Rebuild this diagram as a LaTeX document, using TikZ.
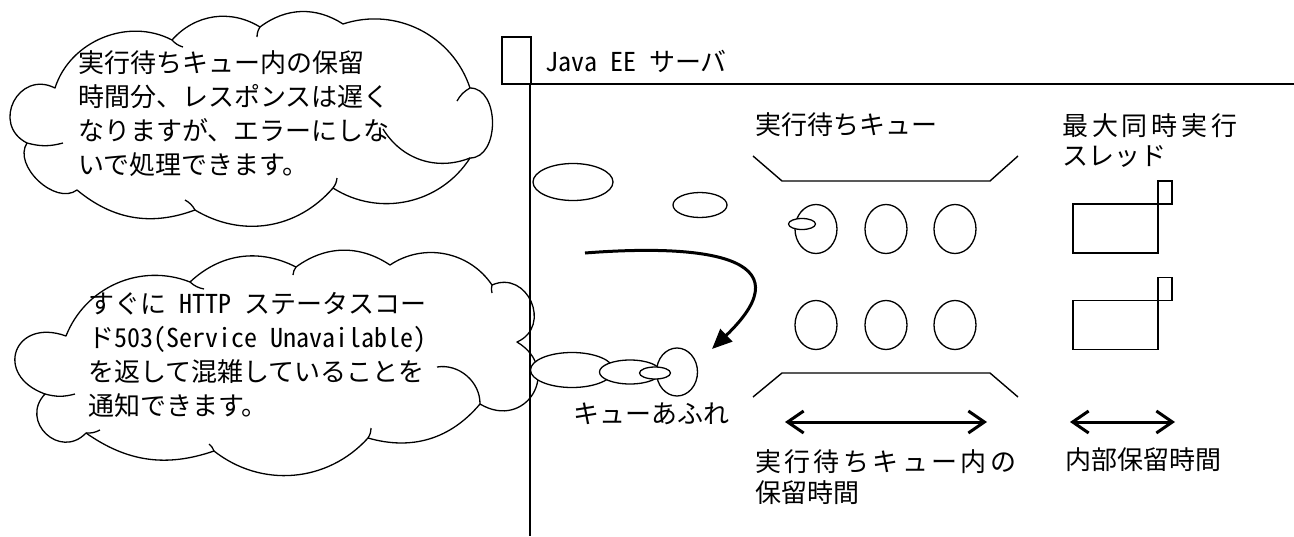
\documentclass[tikz,border=0pt]{standalone}
\usepackage{fontspec}
\setmainfont{Noto Sans CJK JP}
\newfontfamily\hwfont[RawFeature=+hwid]{Noto Sans CJK JP}
\usepackage{tikz}
\usetikzlibrary{positioning}
\usetikzlibrary{arrows.meta,shapes}
\usetikzlibrary{shapes.geometric}

\tikzset{
  puff/.style={line width=1.3pt, line join=round},
  tailegg/.style={ellipse, draw, fill=white, line width=1.3pt, inner sep=0pt},
  jobegg/.style={ellipse, draw, line width=1.3pt, inner sep=0pt, minimum width=42pt, minimum height=49pt},
  threadbox/.style={rectangle, draw, line width=1.6pt, inner sep=0pt, outer sep=0pt, minimum width=85pt, minimum height=49pt},
  threadtab/.style={rectangle, draw, line width=1.6pt, inner sep=0pt, outer sep=0pt, minimum width=14pt, minimum height=23pt, anchor=south west},
  txt/.style={font=\fontsize{26}{34}\selectfont, align=left, inner sep=0pt},
  span/.style={line width=3pt, {Straight Barb[length=16pt,width=22pt]}-{Straight Barb[length=16pt,width=22pt]}},
  flow/.style={line width=3pt, -{Triangle[length=20pt,width=17pt]}},
}

\begin{document}
\begin{tikzpicture}[x=1pt, y=-1pt]
  \useasboundingbox (0,0) rectangle (1294,536);

  \def\lw{1.6pt};

  %server frame
  \draw[line width=\lw] (502,37) rectangle (531,84);
  \draw[line width=\lw] (502,84) -- (1294,84);
  \draw[line width=\lw] (530,84) -- (530,536);
  \node[txt, anchor=west] (srv) at (545,61) {{\hwfont Java EE\ }サーバ};

  %upper cloud
  \foreach \n/\x/\y in {a/55/88, b/172/40, c/260/27, d/343/24, e/470/88, f/470/158, g/333/188, h/195/210, i/77/190, j/27/143}{
    \coordinate (up\n) at (\x,\y);
  }
  \draw[puff] (upa) to[bend left=50] (upb) to[bend left=40] (upc) to[bend left=35] (upd) to[bend left=45] (upe)
    to[bend left=90, looseness=1.1] (upf) to[bend left=45] (upg) to[bend left=40] (uph) to[bend left=30] (upi)
    to[bend left=80] (upj) to[bend left=90, looseness=1.7] (upa) -- cycle;
  \foreach \s/\x/\y/\b in {upb/183/47/-15, upc/257/37/-15, upe/457/101/-15, upf/383/129/40, upg/337/178/-15, uph/185/200/-15, upj/63/143/-15}{
    \draw[puff] (\s) to[bend left=\b] (\x,\y);
  }
  \node[txt, anchor=north west] (tipA) at (78,50) {実行待ちキュー内の保留\\時間分、レスポンスは遅く\\なりますが、エラーにしな\\いで処理できます。};

  %lower cloud
  \foreach \n/\x/\y in {a/66/336, b/190/282, c/296/267, d/390/265, e/492/285, f/517/342, g/480/404, h/368/438, i/214/451, j/86/433, k/45/394}{
    \coordinate (lo\n) at (\x,\y);
  }
  \draw[puff] (loa) to[bend left=45] (lob) to[bend left=35] (loc) to[bend left=35] (lod) to[bend left=45] (loe)
    to[bend left=90, looseness=1.6] (lof) to[bend left=90, looseness=1.9] (log) to[bend left=33] (loh) to[bend left=43] (loi)
    to[bend left=27] (loj) to[bend left=90, looseness=1.7] (lok) to[bend left=90, looseness=2.3] (loa) -- cycle;
  \foreach \s/\x/\y/\b in {lob/204/289/-15, loc/293/275/-15, loe/492/293/-15, log/437/367/-50, loh/371/428/-15, loi/209/444/-15, loj/100/430/-15, lok/75/394/-15}{
    \draw[puff] (\s) to[bend left=\b] (\x,\y);
  }
  \node[txt, anchor=north west] (tipB) at (88,292) {すぐに{\hwfont\ HTTP\ }ステータスコー\\ド{\hwfont 503(Service Unavailable)}\\を返して混雑していることを\\通知できます。};

  %tails
  \foreach \x/\y/\w/\h/\name in {573/182/80/37/ta1, 700/205/54/25/ta2, 572/370/83/35/tb1, 630/372/61/24/tb2, 677/372/41/48/tb3}{
    \node[tailegg, minimum width=\w pt, minimum height=\h pt] (\name) at (\x,\y) {};
  }

  %queue
  \def\qt{229};
  \def\qb{325};
  \draw[line width=1.4pt] (753,156) -- (782,181) -- (990,181) -- (1018,156);
  \draw[line width=1.4pt] (753,397) -- (782,373) -- (990,373) -- (1018,397);
  \foreach \x/\name in {816/qa, 886/qb, 955/qc}{
    \node[jobegg] (\name1) at (\x,\qt) {};
    \node[jobegg] (\name2) at (\x,\qb) {};
  }
  \node[tailegg, minimum width=27pt, minimum height=11pt] (ta3) at (802,224) {};
  \node[tailegg, minimum width=31pt, minimum height=12pt] (tb4) at (655,373) {};
  \node[txt, anchor=west] (qname) at (755,125) {実行待ちキュー};
  \node[txt, anchor=west] (over) at (573,414) {キューあふれ};

  %threads
  \foreach \y/\name in {228.5/th1, 325/th2}{
    \node[threadbox] (\name) at (1115.5,\y) {};
    \node[threadtab] (\name t) at (\name.north east) {};
  }
  \node[txt, anchor=north west, font=\fontsize{26}{30}\selectfont] (thname) at (1062,113) {{\addfontfeature{LetterSpace=15}最大同時実行}\\スレッド};

  %times
  \coordinate (waitL) at (785,422);
  \coordinate (waitR) at (987,422);
  \coordinate (holdL) at (1070,422);
  \coordinate (holdR) at (1175,422);
  \draw[span] (waitL) -- (waitR);
  \draw[span] (holdL) -- (holdR);
  \node[txt, anchor=north west, font=\fontsize{26}{31}\selectfont] (waitT) at (755,449) {{\addfontfeature{LetterSpace=13}実行待ちキュー内の}\\保留時間};
  \node[txt, anchor=west] (holdT) at (1065,460) {内部保留時間};

  %flow
  \coordinate (flowA) at (585,253);
  \coordinate (flowB) at (712,349);
  \draw[flow] (flowA) .. controls (700,244) and (810,255) .. (flowB);

\end{tikzpicture}
\end{document}
